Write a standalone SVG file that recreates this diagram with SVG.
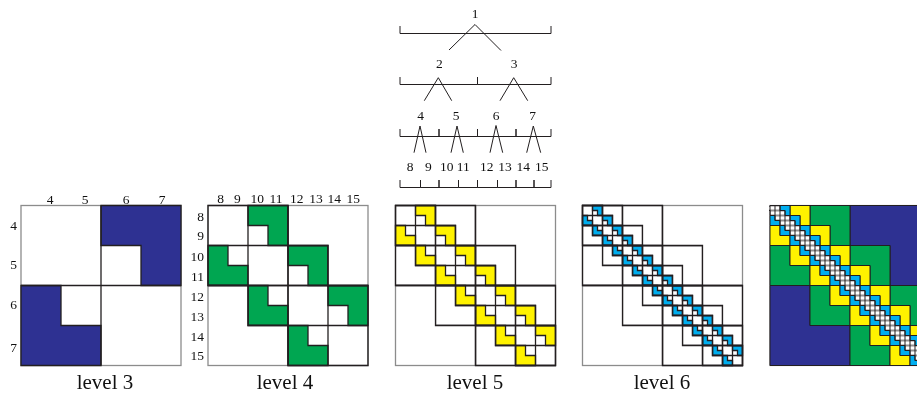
<svg xmlns="http://www.w3.org/2000/svg" xmlns:xlink="http://www.w3.org/1999/xlink" width="917" height="395" viewBox="0 0 917 395">
<style>
  .frame { fill: #ffffff; stroke: #8c8c8c; stroke-width: 1.3; }
  .ln { fill: none; stroke: #231f20; stroke-width: 1.3; }
  .thin { stroke-width: 1; }
  .blue { fill: #2e3192; stroke: #231f20; stroke-width: 1.3; }
  .green { fill: #00a651; stroke: #231f20; stroke-width: 1.3; }
  .yellow { fill: #fff200; stroke: #231f20; stroke-width: 1.3; }
  .cyan { fill: #00aeef; stroke: #231f20; stroke-width: 1.3; }
  .p7 .blue, .p7 .green, .p7 .yellow, .p7 .cyan { stroke-width: 1; }
  .cells { fill: url(#cell5); stroke: none; }
  .br { fill: none; stroke: #231f20; stroke-width: 1; }
  .txt { filter: url(#flat); }
  .lbl { font-family: 'Liberation Serif', 'Times New Roman', serif; font-size: 13.5px; fill: #111111; text-anchor: middle; }
  .end { text-anchor: end; }
  .cap { font-family: 'Liberation Serif', 'Times New Roman', serif; font-size: 21px; fill: #111111; text-anchor: middle; }
</style>
<defs>
  <!-- plain rasterisation pass for text (greyscale edges) -->
  <filter id="flat" x="-0.1" y="-0.1" width="1.2" height="1.2" filterUnits="objectBoundingBox">
    <feOffset dx="0" dy="0"/>
  </filter>
  <!-- near-field bands: blocks (i,j) with |i-j| <= 1 at each level, panel-local coords -->
  <path id="band3" d="M0,0h80v40h40v40h40v80h-80v-40h-40v-40h-40z"/>
  <path id="band4" d="M0,0h40v20h20v20h20v20h20v20h20v20h20v20h20v40h-40v-20h-20v-20h-20v-20h-20v-20h-20v-20h-20v-20h-20z"/>
  <path id="band5" d="M0,0h20v10h10v10h10v10h10v10h10v10h10v10h10v10h10v10h10v10h10v10h10v10h10v10h10v10h10v10h10v20h-20v-10h-10v-10h-10v-10h-10v-10h-10v-10h-10v-10h-10v-10h-10v-10h-10v-10h-10v-10h-10v-10h-10v-10h-10v-10h-10v-10h-10z"/>
  <path id="band6" d="M0,0h10v5h5v5h5v5h5v5h5v5h5v5h5v5h5v5h5v5h5v5h5v5h5v5h5v5h5v5h5v5h5v5h5v5h5v5h5v5h5v5h5v5h5v5h5v5h5v5h5v5h5v5h5v5h5v5h5v5h5v10h-10v-5h-5v-5h-5v-5h-5v-5h-5v-5h-5v-5h-5v-5h-5v-5h-5v-5h-5v-5h-5v-5h-5v-5h-5v-5h-5v-5h-5v-5h-5v-5h-5v-5h-5v-5h-5v-5h-5v-5h-5v-5h-5v-5h-5v-5h-5v-5h-5v-5h-5v-5h-5v-5h-5v-5h-5v-5h-5v-5h-5z"/>
  <!-- grid lines for each block size -->
  <path id="grid3" d="M40,0V160M80,0V160M120,0V160M0,40H160M0,80H160M0,120H160"/>
  <path id="grid4" d="M20,0V160M40,0V160M60,0V160M80,0V160M100,0V160M120,0V160M140,0V160M0,20H160M0,40H160M0,60H160M0,80H160M0,100H160M0,120H160M0,140H160"/>
  <path id="grid5" d="M10,0V160M20,0V160M30,0V160M40,0V160M50,0V160M60,0V160M70,0V160M80,0V160M90,0V160M100,0V160M110,0V160M120,0V160M130,0V160M140,0V160M150,0V160M0,10H160M0,20H160M0,30H160M0,40H160M0,50H160M0,60H160M0,70H160M0,80H160M0,90H160M0,100H160M0,110H160M0,120H160M0,130H160M0,140H160M0,150H160"/>
  <!-- dense finest-level blocks: white cells with dark edges -->
  <pattern id="cell5" patternUnits="userSpaceOnUse" x="0" y="0" width="5" height="5">
    <rect x="0" y="0" width="5" height="5" fill="#ffffff" stroke="#231f20" stroke-width="1"/>
  </pattern>
  <!-- admissible blocks of each level: L-shapes inside the off-diagonal parent blocks -->
  <path id="adm3" d="M80,0h80v80h-40v-40h-40zM0,80h40v40h40v40h-80z"/>
  <path id="adm4" d="M40,0h40v40h-20v-20h-20zm40,40h40v40h-20v-20h-20zm40,40h40v40h-20v-20h-20zM0,40h20v20h20v20h-40zm40,40h20v20h20v20h-40zm40,40h20v20h20v20h-40z"/>
  <path id="adm5" d="M20,0h20v20h-10v-10h-10zm20,20h20v20h-10v-10h-10zm20,20h20v20h-10v-10h-10zm20,20h20v20h-10v-10h-10zm20,20h20v20h-10v-10h-10zm20,20h20v20h-10v-10h-10zm20,20h20v20h-10v-10h-10zM0,20h10v10h10v10h-20zm20,20h10v10h10v10h-20zm20,20h10v10h10v10h-20zm20,20h10v10h10v10h-20zm20,20h10v10h10v10h-20zm20,20h10v10h10v10h-20zm20,20h10v10h10v10h-20z"/>
  <path id="adm6" d="M10,0h10v10h-5v-5h-5zm10,10h10v10h-5v-5h-5zm10,10h10v10h-5v-5h-5zm10,10h10v10h-5v-5h-5zm10,10h10v10h-5v-5h-5zm10,10h10v10h-5v-5h-5zm10,10h10v10h-5v-5h-5zm10,10h10v10h-5v-5h-5zm10,10h10v10h-5v-5h-5zm10,10h10v10h-5v-5h-5zm10,10h10v10h-5v-5h-5zm10,10h10v10h-5v-5h-5zm10,10h10v10h-5v-5h-5zm10,10h10v10h-5v-5h-5zm10,10h10v10h-5v-5h-5zM0,10h5v5h5v5h-10zm10,10h5v5h5v5h-10zm10,10h5v5h5v5h-10zm10,10h5v5h5v5h-10zm10,10h5v5h5v5h-10zm10,10h5v5h5v5h-10zm10,10h5v5h5v5h-10zm10,10h5v5h5v5h-10zm10,10h5v5h5v5h-10zm10,10h5v5h5v5h-10zm10,10h5v5h5v5h-10zm10,10h5v5h5v5h-10zm10,10h5v5h5v5h-10zm10,10h5v5h5v5h-10zm10,10h5v5h5v5h-10z"/>
  <path id="mid" d="M80,0V160M0,80H160"/>
  <clipPath id="c3"><use xlink:href="#band3"/></clipPath>
  <clipPath id="c4"><use xlink:href="#band4"/></clipPath>
  <clipPath id="c5"><use xlink:href="#band5"/></clipPath>
  <clipPath id="panelclip"><rect x="-1" y="-1" width="162" height="162"/></clipPath>
</defs>

<!-- cluster tree -->
<g id="tree">
  <g id="node1"><text class="lbl txt" x="475" y="17.5">1</text><path class="br" d="M400,26V33.5H551V26"/></g>
  <g id="node2"><text class="lbl txt" x="439.3" y="68">2</text><path class="br" d="M400,77V84.5H477.5V77"/></g>
  <g id="node3"><text class="lbl txt" x="514" y="68">3</text><path class="br" d="M477.5,77V84.5H551V77"/></g>
  <g id="node4"><text class="lbl txt" x="420.7" y="119.5">4</text><path class="br" d="M400,129V136.5H439V129"/></g>
  <g id="node5"><text class="lbl txt" x="456" y="119.5">5</text><path class="br" d="M439,129V136.5H477.5V129"/></g>
  <g id="node6"><text class="lbl txt" x="496" y="119.5">6</text><path class="br" d="M477.5,129V136.5H516V129"/></g>
  <g id="node7"><text class="lbl txt" x="532.7" y="119.5">7</text><path class="br" d="M516,129V136.5H551V129"/></g>
  <g id="node8"><text class="lbl txt" x="410" y="170.5">8</text><path class="br" d="M400,180V187.5H420.5V180"/></g>
  <g id="node9"><text class="lbl txt" x="428.3" y="170.5">9</text><path class="br" d="M420.5,180V187.5H439V180"/></g>
  <g id="node10"><text class="lbl txt" x="446.7" y="170.5">10</text><path class="br" d="M439,180V187.5H458.5V180"/></g>
  <g id="node11"><text class="lbl txt" x="463.3" y="170.5">11</text><path class="br" d="M458.5,180V187.5H477.5V180"/></g>
  <g id="node12"><text class="lbl txt" x="486.7" y="170.5">12</text><path class="br" d="M477.5,180V187.5H497.5V180"/></g>
  <g id="node13"><text class="lbl txt" x="505" y="170.5">13</text><path class="br" d="M497.5,180V187.5H516V180"/></g>
  <g id="node14"><text class="lbl txt" x="523.3" y="170.5">14</text><path class="br" d="M516,180V187.5H534V180"/></g>
  <g id="node15"><text class="lbl txt" x="541.7" y="170.5">15</text><path class="br" d="M534,180V187.5H551V180"/></g>
  <g id="connectors">
    <path class="br" d="M449,50L475,24.5L501,50.5"/>
    <path class="br" d="M424.3,100.7L438.3,77.7L451.7,100.7"/>
    <path class="br" d="M500,100.7L513.7,77.7L527.7,100.7"/>
    <path class="br" d="M414,152.7L420,126L426,152.7"/>
    <path class="br" d="M451,152.7L457,126L463.3,152.7"/>
    <path class="br" d="M490,152.7L496,125.5L502.7,152.7"/>
    <path class="br" d="M526.7,152.7L533.3,126L540.7,152.7"/>
  </g>
</g>

<!-- level 3 -->
<g id="level3">
  <g transform="translate(21,205.5)">
    <rect class="frame" width="160" height="160"/>
    <use xlink:href="#adm3" class="blue"/>
    <use xlink:href="#mid" class="ln"/>
  </g>
  <g class="txt">
    <text class="lbl" x="50" y="204">4</text>
    <text class="lbl" x="85" y="204">5</text>
    <text class="lbl" x="126" y="204">6</text>
    <text class="lbl" x="162" y="204">7</text>
    <text class="lbl" x="13.5" y="229.5">4</text>
    <text class="lbl" x="13.5" y="269">5</text>
    <text class="lbl" x="13.5" y="309">6</text>
    <text class="lbl" x="13.5" y="352">7</text>
    <text class="cap" x="105" y="389">level 3</text>
  </g>
</g>

<!-- level 4 -->
<g id="level4">
  <g transform="translate(208,205.5)">
    <rect class="frame" width="160" height="160"/>
    <use xlink:href="#adm4" class="green"/>
    <g clip-path="url(#c3)"><use xlink:href="#grid3" class="ln"/></g>
    <use xlink:href="#band3" class="ln"/>
    <use xlink:href="#mid" class="ln"/>
  </g>
  <g class="txt">
    <text class="lbl" x="220.7" y="203">8</text>
    <text class="lbl" x="237.3" y="203">9</text>
    <text class="lbl" x="257.3" y="203">10</text>
    <text class="lbl" x="276" y="203">11</text>
    <text class="lbl" x="296.7" y="203">12</text>
    <text class="lbl" x="316" y="203">13</text>
    <text class="lbl" x="334.3" y="203">14</text>
    <text class="lbl" x="353.3" y="203">15</text>
    <text class="lbl end" x="204" y="220.5">8</text>
    <text class="lbl end" x="204" y="240">9</text>
    <text class="lbl end" x="204" y="260.5">10</text>
    <text class="lbl end" x="204" y="280.5">11</text>
    <text class="lbl end" x="204" y="300.5">12</text>
    <text class="lbl end" x="204" y="320.5">13</text>
    <text class="lbl end" x="204" y="340.5">14</text>
    <text class="lbl end" x="204" y="359.5">15</text>
    <text class="cap" x="285" y="389">level 4</text>
  </g>
</g>

<!-- level 5 -->
<g id="level5">
  <g transform="translate(395.5,205.5)">
    <rect class="frame" width="160" height="160"/>
    <use xlink:href="#adm5" class="yellow"/>
    <g clip-path="url(#c4)"><use xlink:href="#grid4" class="ln"/></g>
    <use xlink:href="#band4" class="ln"/>
    <g clip-path="url(#c3)"><use xlink:href="#grid3" class="ln"/></g>
    <use xlink:href="#band3" class="ln"/>
    <use xlink:href="#mid" class="ln"/>
  </g>
  <g class="txt"><text class="cap" x="475" y="389">level 5</text></g>
</g>

<!-- level 6 -->
<g id="level6">
  <g transform="translate(582.5,205.5)">
    <rect class="frame" width="160" height="160"/>
    <use xlink:href="#adm6" class="cyan"/>
    <g clip-path="url(#c5)"><use xlink:href="#grid5" class="ln"/></g>
    <use xlink:href="#band5" class="ln"/>
    <g clip-path="url(#c4)"><use xlink:href="#grid4" class="ln"/></g>
    <use xlink:href="#band4" class="ln"/>
    <g clip-path="url(#c3)"><use xlink:href="#grid3" class="ln"/></g>
    <use xlink:href="#band3" class="ln"/>
    <use xlink:href="#mid" class="ln"/>
  </g>
  <g class="txt"><text class="cap" x="662" y="389">level 6</text></g>
</g>

<!-- all levels combined -->
<g id="combined" class="p7">
  <g transform="translate(770,205.5)" clip-path="url(#panelclip)">
    <rect class="frame" width="160" height="160"/>
    <use xlink:href="#adm3" class="blue"/>
    <use xlink:href="#adm4" class="green"/>
    <use xlink:href="#adm5" class="yellow"/>
    <use xlink:href="#adm6" class="cyan"/>
    <use xlink:href="#band6" class="cells"/>
    <use xlink:href="#band6" class="ln thin"/>
  </g>
</g>
</svg>
